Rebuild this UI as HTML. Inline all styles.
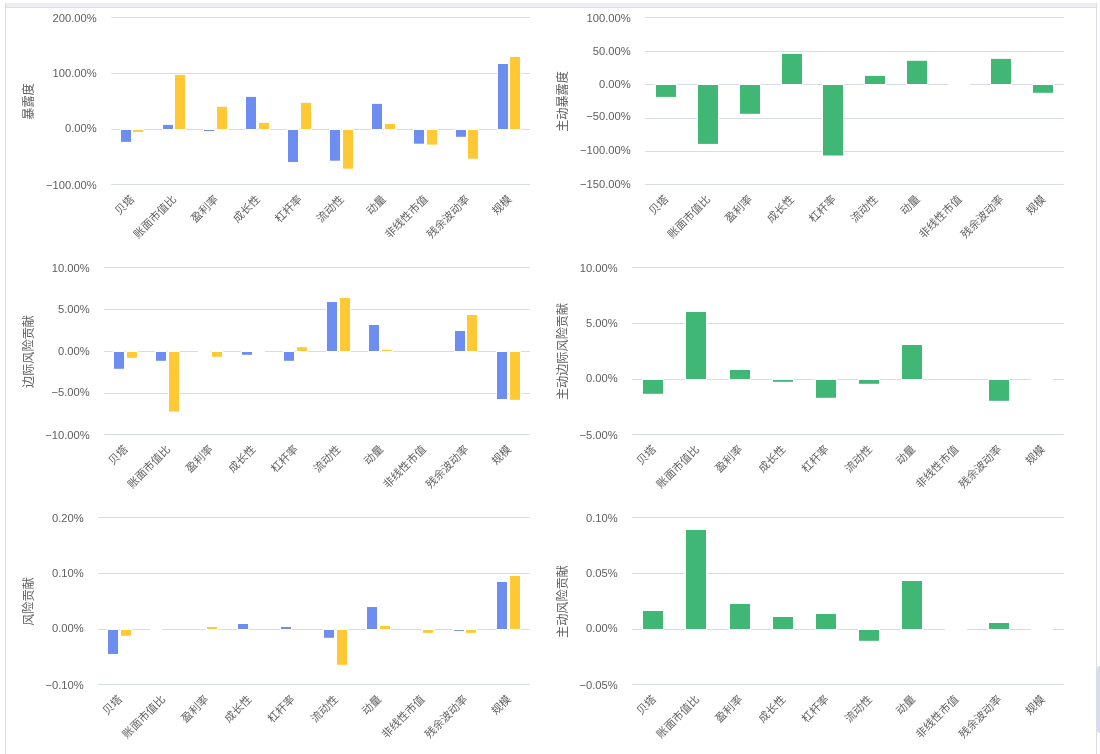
<!DOCTYPE html>
<html lang="zh-CN"><head><meta charset="utf-8"><title>风格因子分析</title>
<style>
html,body{margin:0;padding:0;background:#fff;overflow:hidden}
body{width:1100px;height:754px;position:relative;font-family:"Liberation Sans","Noto Sans CJK SC",sans-serif}
svg{position:absolute;left:0;top:0;display:block;will-change:transform}
svg text{font-family:"Liberation Sans","Noto Sans CJK SC",sans-serif}
.yl{font-size:11.2px;fill:#5e5e5e}
.xl{font-size:11px;fill:#5e5e5e}
.nm{font-size:12.15px;fill:#5e5e5e}
</style></head><body>
<svg width="1100" height="754" viewBox="0 0 1100 754">
<rect x="0" y="0" width="1100" height="754" fill="#fff"/>
<rect x="5" y="3" width="1092" height="4" fill="#ebedf3"/>
<rect x="5" y="7" width="1092" height="1" fill="#dadde9"/>
<rect x="5" y="3" width="1" height="751" fill="#dadde9"/>
<rect x="1096" y="3" width="1" height="751" fill="#dadde9"/>
<rect x="1097" y="666" width="6" height="67" rx="3" ry="3" fill="#d5ddef"/>
<rect x="111" y="17" width="419" height="1" fill="#d7dce8"/>
<rect x="111" y="73" width="419" height="1" fill="#d7dce8"/>
<rect x="111" y="129" width="419" height="1" fill="#d7dce8"/>
<rect x="111" y="184" width="419" height="1" fill="#d7dce8"/>
<text x="96.7" y="22.3" text-anchor="end" class="yl">200.00%</text>
<text x="96.7" y="76.97" text-anchor="end" class="yl">100.00%</text>
<text x="96.7" y="131.63" text-anchor="end" class="yl">0.00%</text>
<text x="96.7" y="188.55" text-anchor="end" class="yl">−100.00%</text>
<text transform="translate(32.8,101.5) rotate(-90)" text-anchor="middle" class="nm">暴露度</text>
<rect x="120" y="129" width="12" height="13.9" fill="#fff"/>
<rect x="121" y="130" width="10" height="11.9" fill="#6d8ef0"/>
<rect x="132" y="129" width="12" height="3.8" fill="#fff"/>
<rect x="133" y="130" width="10" height="1.8" fill="#ffc835"/>
<text transform="translate(132.45,197.3) rotate(-45)" text-anchor="end" dy="3.8" class="xl">贝塔</text>
<rect x="162" y="123.9" width="12" height="6.1" fill="#fff"/>
<rect x="163" y="124.9" width="10" height="4.1" fill="#6d8ef0"/>
<rect x="174" y="73.9" width="12" height="56.1" fill="#fff"/>
<rect x="175" y="74.9" width="10" height="54.1" fill="#ffc835"/>
<text transform="translate(174.35,197.3) rotate(-45)" text-anchor="end" dy="3.8" class="xl">账面市值比</text>
<rect x="203" y="129" width="12" height="3" fill="#fff"/>
<rect x="204" y="130" width="10" height="1" fill="#6d8ef0"/>
<rect x="216" y="105.8" width="12" height="24.2" fill="#fff"/>
<rect x="217" y="106.8" width="10" height="22.2" fill="#ffc835"/>
<text transform="translate(216.25,197.3) rotate(-45)" text-anchor="end" dy="3.8" class="xl">盈利率</text>
<rect x="245" y="95.9" width="12" height="34.1" fill="#fff"/>
<rect x="246" y="96.9" width="10" height="32.1" fill="#6d8ef0"/>
<rect x="258" y="121.9" width="12" height="8.1" fill="#fff"/>
<rect x="259" y="122.9" width="10" height="6.1" fill="#ffc835"/>
<text transform="translate(258.15,197.3) rotate(-45)" text-anchor="end" dy="3.8" class="xl">成长性</text>
<rect x="287" y="129" width="12" height="34" fill="#fff"/>
<rect x="288" y="130" width="10" height="32" fill="#6d8ef0"/>
<rect x="300" y="101.8" width="12" height="28.2" fill="#fff"/>
<rect x="301" y="102.8" width="10" height="26.2" fill="#ffc835"/>
<text transform="translate(300.05,197.3) rotate(-45)" text-anchor="end" dy="3.8" class="xl">杠杆率</text>
<rect x="329" y="129" width="12" height="32.7" fill="#fff"/>
<rect x="330" y="130" width="10" height="30.7" fill="#6d8ef0"/>
<rect x="342" y="129" width="12" height="40.7" fill="#fff"/>
<rect x="343" y="130" width="10" height="38.7" fill="#ffc835"/>
<text transform="translate(341.95,197.3) rotate(-45)" text-anchor="end" dy="3.8" class="xl">流动性</text>
<rect x="371" y="102.9" width="12" height="27.1" fill="#fff"/>
<rect x="372" y="103.9" width="10" height="25.1" fill="#6d8ef0"/>
<rect x="384" y="123" width="12" height="7" fill="#fff"/>
<rect x="385" y="124" width="10" height="5" fill="#ffc835"/>
<text transform="translate(383.85,197.3) rotate(-45)" text-anchor="end" dy="3.8" class="xl">动量</text>
<rect x="413" y="129" width="12" height="15.7" fill="#fff"/>
<rect x="414" y="130" width="10" height="13.7" fill="#6d8ef0"/>
<rect x="426" y="129" width="12" height="16.6" fill="#fff"/>
<rect x="427" y="130" width="10" height="14.6" fill="#ffc835"/>
<text transform="translate(425.75,197.3) rotate(-45)" text-anchor="end" dy="3.8" class="xl">非线性市值</text>
<rect x="455" y="129" width="12" height="8.8" fill="#fff"/>
<rect x="456" y="130" width="10" height="6.8" fill="#6d8ef0"/>
<rect x="467" y="129" width="12" height="30.7" fill="#fff"/>
<rect x="468" y="130" width="10" height="28.7" fill="#ffc835"/>
<text transform="translate(467.65,197.3) rotate(-45)" text-anchor="end" dy="3.8" class="xl">残余波动率</text>
<rect x="497" y="63" width="12" height="67" fill="#fff"/>
<rect x="498" y="64" width="10" height="65" fill="#6d8ef0"/>
<rect x="509" y="56" width="12" height="74" fill="#fff"/>
<rect x="510" y="57" width="10" height="72" fill="#ffc835"/>
<text transform="translate(509.55,197.3) rotate(-45)" text-anchor="end" dy="3.8" class="xl">规模</text>
<rect x="645" y="17" width="419" height="1" fill="#d7dce8"/>
<rect x="645" y="51" width="419" height="1" fill="#d7dce8"/>
<rect x="645" y="84" width="419" height="1" fill="#d7dce8"/>
<rect x="645" y="118" width="419" height="1" fill="#d7dce8"/>
<rect x="645" y="151" width="419" height="1" fill="#d7dce8"/>
<rect x="645" y="184" width="419" height="1" fill="#d7dce8"/>
<text x="630.7" y="22.2" text-anchor="end" class="yl">100.00%</text>
<text x="630.7" y="54.7" text-anchor="end" class="yl">50.00%</text>
<text x="630.7" y="88.1" text-anchor="end" class="yl">0.00%</text>
<text x="630.7" y="120.45" text-anchor="end" class="yl">−50.00%</text>
<text x="630.7" y="153.85" text-anchor="end" class="yl">−100.00%</text>
<text x="630.7" y="188.3" text-anchor="end" class="yl">−150.00%</text>
<text transform="translate(566.8,101.5) rotate(-90)" text-anchor="middle" class="nm">主动暴露度</text>
<rect x="655" y="84" width="22" height="13.9" fill="#fff"/>
<rect x="656" y="85" width="20" height="11.9" fill="#41b775"/>
<text transform="translate(666.45,197.3) rotate(-45)" text-anchor="end" dy="3.8" class="xl">贝塔</text>
<rect x="697" y="84" width="22" height="60.9" fill="#fff"/>
<rect x="698" y="85" width="20" height="58.9" fill="#41b775"/>
<text transform="translate(708.35,197.3) rotate(-45)" text-anchor="end" dy="3.8" class="xl">账面市值比</text>
<rect x="739" y="84" width="22" height="30.8" fill="#fff"/>
<rect x="740" y="85" width="20" height="28.8" fill="#41b775"/>
<text transform="translate(750.25,197.3) rotate(-45)" text-anchor="end" dy="3.8" class="xl">盈利率</text>
<rect x="781" y="52.9" width="22" height="32.1" fill="#fff"/>
<rect x="782" y="53.9" width="20" height="30.1" fill="#41b775"/>
<text transform="translate(792.15,197.3) rotate(-45)" text-anchor="end" dy="3.8" class="xl">成长性</text>
<rect x="822" y="84" width="22" height="72.5" fill="#fff"/>
<rect x="823" y="85" width="20" height="70.5" fill="#41b775"/>
<text transform="translate(834.05,197.3) rotate(-45)" text-anchor="end" dy="3.8" class="xl">杠杆率</text>
<rect x="864" y="74.9" width="22" height="10.1" fill="#fff"/>
<rect x="865" y="75.9" width="20" height="8.1" fill="#41b775"/>
<text transform="translate(875.95,197.3) rotate(-45)" text-anchor="end" dy="3.8" class="xl">流动性</text>
<rect x="906" y="59.8" width="22" height="25.2" fill="#fff"/>
<rect x="907" y="60.8" width="20" height="23.2" fill="#41b775"/>
<text transform="translate(917.85,197.3) rotate(-45)" text-anchor="end" dy="3.8" class="xl">动量</text>
<rect x="948" y="83.5" width="22" height="2" fill="#fff"/>
<text transform="translate(959.75,197.3) rotate(-45)" text-anchor="end" dy="3.8" class="xl">非线性市值</text>
<rect x="990" y="57.9" width="22" height="27.1" fill="#fff"/>
<rect x="991" y="58.9" width="20" height="25.1" fill="#41b775"/>
<text transform="translate(1001.65,197.3) rotate(-45)" text-anchor="end" dy="3.8" class="xl">残余波动率</text>
<rect x="1032" y="84" width="22" height="9.8" fill="#fff"/>
<rect x="1033" y="85" width="20" height="7.8" fill="#41b775"/>
<text transform="translate(1043.55,197.3) rotate(-45)" text-anchor="end" dy="3.8" class="xl">规模</text>
<rect x="104" y="267" width="426" height="1" fill="#d7dce8"/>
<rect x="104" y="309" width="426" height="1" fill="#d7dce8"/>
<rect x="104" y="351" width="426" height="1" fill="#d7dce8"/>
<rect x="104" y="393" width="426" height="1" fill="#d7dce8"/>
<rect x="104" y="434" width="426" height="1" fill="#d7dce8"/>
<text x="89.7" y="272.3" text-anchor="end" class="yl">10.00%</text>
<text x="89.7" y="313.3" text-anchor="end" class="yl">5.00%</text>
<text x="89.7" y="354.8" text-anchor="end" class="yl">0.00%</text>
<text x="89.7" y="395.8" text-anchor="end" class="yl">−5.00%</text>
<text x="89.7" y="438.55" text-anchor="end" class="yl">−10.00%</text>
<text transform="translate(32.8,351.5) rotate(-90)" text-anchor="middle" class="nm">边际风险贡献</text>
<rect x="113" y="351" width="12" height="18.8" fill="#fff"/>
<rect x="114" y="352" width="10" height="16.8" fill="#6d8ef0"/>
<rect x="126" y="351" width="12" height="7.8" fill="#fff"/>
<rect x="127" y="352" width="10" height="5.8" fill="#ffc835"/>
<text transform="translate(125.8,447.3) rotate(-45)" text-anchor="end" dy="3.8" class="xl">贝塔</text>
<rect x="155" y="351" width="12" height="10.8" fill="#fff"/>
<rect x="156" y="352" width="10" height="8.8" fill="#6d8ef0"/>
<rect x="168" y="351" width="12" height="61.6" fill="#fff"/>
<rect x="169" y="352" width="10" height="59.6" fill="#ffc835"/>
<text transform="translate(168.4,447.3) rotate(-45)" text-anchor="end" dy="3.8" class="xl">账面市值比</text>
<rect x="198" y="350.5" width="12" height="2" fill="#fff"/>
<rect x="211" y="351" width="12" height="6.8" fill="#fff"/>
<rect x="212" y="352" width="10" height="4.8" fill="#ffc835"/>
<text transform="translate(211,447.3) rotate(-45)" text-anchor="end" dy="3.8" class="xl">盈利率</text>
<rect x="241" y="351" width="12" height="4.8" fill="#fff"/>
<rect x="242" y="352" width="10" height="2.8" fill="#6d8ef0"/>
<rect x="253" y="350.5" width="12" height="2" fill="#fff"/>
<text transform="translate(253.6,447.3) rotate(-45)" text-anchor="end" dy="3.8" class="xl">成长性</text>
<rect x="283" y="351" width="12" height="10.8" fill="#fff"/>
<rect x="284" y="352" width="10" height="8.8" fill="#6d8ef0"/>
<rect x="296" y="346.2" width="12" height="5.8" fill="#fff"/>
<rect x="297" y="347.2" width="10" height="3.8" fill="#ffc835"/>
<text transform="translate(296.2,447.3) rotate(-45)" text-anchor="end" dy="3.8" class="xl">杠杆率</text>
<rect x="326" y="301" width="12" height="51" fill="#fff"/>
<rect x="327" y="302" width="10" height="49" fill="#6d8ef0"/>
<rect x="339" y="297" width="12" height="55" fill="#fff"/>
<rect x="340" y="298" width="10" height="53" fill="#ffc835"/>
<text transform="translate(338.8,447.3) rotate(-45)" text-anchor="end" dy="3.8" class="xl">流动性</text>
<rect x="368" y="324" width="12" height="28" fill="#fff"/>
<rect x="369" y="325" width="10" height="26" fill="#6d8ef0"/>
<rect x="381" y="348.8" width="12" height="3.2" fill="#fff"/>
<rect x="382" y="349.8" width="10" height="1.2" fill="#ffc835"/>
<text transform="translate(381.4,447.3) rotate(-45)" text-anchor="end" dy="3.8" class="xl">动量</text>
<text transform="translate(424,447.3) rotate(-45)" text-anchor="end" dy="3.8" class="xl">非线性市值</text>
<rect x="454" y="330" width="12" height="22" fill="#fff"/>
<rect x="455" y="331" width="10" height="20" fill="#6d8ef0"/>
<rect x="466" y="314" width="12" height="38" fill="#fff"/>
<rect x="467" y="315" width="10" height="36" fill="#ffc835"/>
<text transform="translate(466.6,447.3) rotate(-45)" text-anchor="end" dy="3.8" class="xl">残余波动率</text>
<rect x="496" y="351" width="12" height="49" fill="#fff"/>
<rect x="497" y="352" width="10" height="47" fill="#6d8ef0"/>
<rect x="509" y="351" width="12" height="49.8" fill="#fff"/>
<rect x="510" y="352" width="10" height="47.8" fill="#ffc835"/>
<text transform="translate(509.2,447.3) rotate(-45)" text-anchor="end" dy="3.8" class="xl">规模</text>
<rect x="632" y="267" width="432" height="1" fill="#d7dce8"/>
<rect x="632" y="323" width="432" height="1" fill="#d7dce8"/>
<rect x="632" y="379" width="432" height="1" fill="#d7dce8"/>
<rect x="632" y="434" width="432" height="1" fill="#d7dce8"/>
<text x="617.7" y="272.3" text-anchor="end" class="yl">10.00%</text>
<text x="617.7" y="326.97" text-anchor="end" class="yl">5.00%</text>
<text x="617.7" y="381.63" text-anchor="end" class="yl">0.00%</text>
<text x="617.7" y="438.55" text-anchor="end" class="yl">−5.00%</text>
<text transform="translate(566.8,351.5) rotate(-90)" text-anchor="middle" class="nm">主动边际风险贡献</text>
<rect x="642" y="379" width="22" height="15.8" fill="#fff"/>
<rect x="643" y="380" width="20" height="13.8" fill="#41b775"/>
<text transform="translate(654.1,447.3) rotate(-45)" text-anchor="end" dy="3.8" class="xl">贝塔</text>
<rect x="685" y="311" width="22" height="69" fill="#fff"/>
<rect x="686" y="312" width="20" height="67" fill="#41b775"/>
<text transform="translate(697.3,447.3) rotate(-45)" text-anchor="end" dy="3.8" class="xl">账面市值比</text>
<rect x="729" y="369" width="22" height="11" fill="#fff"/>
<rect x="730" y="370" width="20" height="9" fill="#41b775"/>
<text transform="translate(740.5,447.3) rotate(-45)" text-anchor="end" dy="3.8" class="xl">盈利率</text>
<rect x="772" y="379" width="22" height="3.8" fill="#fff"/>
<rect x="773" y="380" width="20" height="1.8" fill="#41b775"/>
<text transform="translate(783.7,447.3) rotate(-45)" text-anchor="end" dy="3.8" class="xl">成长性</text>
<rect x="815" y="379" width="22" height="19.8" fill="#fff"/>
<rect x="816" y="380" width="20" height="17.8" fill="#41b775"/>
<text transform="translate(826.9,447.3) rotate(-45)" text-anchor="end" dy="3.8" class="xl">杠杆率</text>
<rect x="858" y="379" width="22" height="5.8" fill="#fff"/>
<rect x="859" y="380" width="20" height="3.8" fill="#41b775"/>
<text transform="translate(870.1,447.3) rotate(-45)" text-anchor="end" dy="3.8" class="xl">流动性</text>
<rect x="901" y="344" width="22" height="36" fill="#fff"/>
<rect x="902" y="345" width="20" height="34" fill="#41b775"/>
<text transform="translate(913.3,447.3) rotate(-45)" text-anchor="end" dy="3.8" class="xl">动量</text>
<text transform="translate(956.5,447.3) rotate(-45)" text-anchor="end" dy="3.8" class="xl">非线性市值</text>
<rect x="988" y="379" width="22" height="22.8" fill="#fff"/>
<rect x="989" y="380" width="20" height="20.8" fill="#41b775"/>
<text transform="translate(999.7,447.3) rotate(-45)" text-anchor="end" dy="3.8" class="xl">残余波动率</text>
<rect x="1031" y="378.5" width="22" height="2" fill="#fff"/>
<text transform="translate(1042.9,447.3) rotate(-45)" text-anchor="end" dy="3.8" class="xl">规模</text>
<rect x="98" y="517" width="432" height="1" fill="#d7dce8"/>
<rect x="98" y="573" width="432" height="1" fill="#d7dce8"/>
<rect x="98" y="629" width="432" height="1" fill="#d7dce8"/>
<rect x="98" y="684" width="432" height="1" fill="#d7dce8"/>
<text x="83.7" y="522.3" text-anchor="end" class="yl">0.20%</text>
<text x="83.7" y="576.97" text-anchor="end" class="yl">0.10%</text>
<text x="83.7" y="631.63" text-anchor="end" class="yl">0.00%</text>
<text x="83.7" y="688.55" text-anchor="end" class="yl">−0.10%</text>
<text transform="translate(32.8,601.5) rotate(-90)" text-anchor="middle" class="nm">风险贡献</text>
<rect x="107" y="629" width="12" height="26" fill="#fff"/>
<rect x="108" y="630" width="10" height="24" fill="#6d8ef0"/>
<rect x="120" y="629" width="12" height="7.8" fill="#fff"/>
<rect x="121" y="630" width="10" height="5.8" fill="#ffc835"/>
<text transform="translate(120.1,697.3) rotate(-45)" text-anchor="end" dy="3.8" class="xl">贝塔</text>
<rect x="150" y="628.5" width="12" height="2" fill="#fff"/>
<text transform="translate(163.3,697.3) rotate(-45)" text-anchor="end" dy="3.8" class="xl">账面市值比</text>
<rect x="206" y="626" width="12" height="4" fill="#fff"/>
<rect x="207" y="627" width="10" height="2" fill="#ffc835"/>
<text transform="translate(206.5,697.3) rotate(-45)" text-anchor="end" dy="3.8" class="xl">盈利率</text>
<rect x="237" y="623" width="12" height="7" fill="#fff"/>
<rect x="238" y="624" width="10" height="5" fill="#6d8ef0"/>
<text transform="translate(249.7,697.3) rotate(-45)" text-anchor="end" dy="3.8" class="xl">成长性</text>
<rect x="280" y="626" width="12" height="4" fill="#fff"/>
<rect x="281" y="627" width="10" height="2" fill="#6d8ef0"/>
<text transform="translate(292.9,697.3) rotate(-45)" text-anchor="end" dy="3.8" class="xl">杠杆率</text>
<rect x="323" y="629" width="12" height="9.8" fill="#fff"/>
<rect x="324" y="630" width="10" height="7.8" fill="#6d8ef0"/>
<rect x="336" y="629" width="12" height="36.8" fill="#fff"/>
<rect x="337" y="630" width="10" height="34.8" fill="#ffc835"/>
<text transform="translate(336.1,697.3) rotate(-45)" text-anchor="end" dy="3.8" class="xl">流动性</text>
<rect x="366" y="606" width="12" height="24" fill="#fff"/>
<rect x="367" y="607" width="10" height="22" fill="#6d8ef0"/>
<rect x="379" y="625" width="12" height="5" fill="#fff"/>
<rect x="380" y="626" width="10" height="3" fill="#ffc835"/>
<text transform="translate(379.3,697.3) rotate(-45)" text-anchor="end" dy="3.8" class="xl">动量</text>
<rect x="422" y="629" width="12" height="4.8" fill="#fff"/>
<rect x="423" y="630" width="10" height="2.8" fill="#ffc835"/>
<text transform="translate(422.5,697.3) rotate(-45)" text-anchor="end" dy="3.8" class="xl">非线性市值</text>
<rect x="453" y="629" width="12" height="2.9" fill="#fff"/>
<rect x="454" y="630" width="10" height="0.9" fill="#6d8ef0"/>
<rect x="465" y="629" width="12" height="4.8" fill="#fff"/>
<rect x="466" y="630" width="10" height="2.8" fill="#ffc835"/>
<text transform="translate(465.7,697.3) rotate(-45)" text-anchor="end" dy="3.8" class="xl">残余波动率</text>
<rect x="496" y="581" width="12" height="49" fill="#fff"/>
<rect x="497" y="582" width="10" height="47" fill="#6d8ef0"/>
<rect x="509" y="575" width="12" height="55" fill="#fff"/>
<rect x="510" y="576" width="10" height="53" fill="#ffc835"/>
<text transform="translate(508.9,697.3) rotate(-45)" text-anchor="end" dy="3.8" class="xl">规模</text>
<rect x="632" y="517" width="432" height="1" fill="#d7dce8"/>
<rect x="632" y="573" width="432" height="1" fill="#d7dce8"/>
<rect x="632" y="629" width="432" height="1" fill="#d7dce8"/>
<rect x="632" y="684" width="432" height="1" fill="#d7dce8"/>
<text x="617.7" y="522.3" text-anchor="end" class="yl">0.10%</text>
<text x="617.7" y="576.97" text-anchor="end" class="yl">0.05%</text>
<text x="617.7" y="631.63" text-anchor="end" class="yl">0.00%</text>
<text x="617.7" y="688.55" text-anchor="end" class="yl">−0.05%</text>
<text transform="translate(566.8,601.5) rotate(-90)" text-anchor="middle" class="nm">主动风险贡献</text>
<rect x="642" y="610" width="22" height="20" fill="#fff"/>
<rect x="643" y="611" width="20" height="18" fill="#41b775"/>
<text transform="translate(654.1,697.3) rotate(-45)" text-anchor="end" dy="3.8" class="xl">贝塔</text>
<rect x="685" y="529" width="22" height="101" fill="#fff"/>
<rect x="686" y="530" width="20" height="99" fill="#41b775"/>
<text transform="translate(697.3,697.3) rotate(-45)" text-anchor="end" dy="3.8" class="xl">账面市值比</text>
<rect x="729" y="603" width="22" height="27" fill="#fff"/>
<rect x="730" y="604" width="20" height="25" fill="#41b775"/>
<text transform="translate(740.5,697.3) rotate(-45)" text-anchor="end" dy="3.8" class="xl">盈利率</text>
<rect x="772" y="616" width="22" height="14" fill="#fff"/>
<rect x="773" y="617" width="20" height="12" fill="#41b775"/>
<text transform="translate(783.7,697.3) rotate(-45)" text-anchor="end" dy="3.8" class="xl">成长性</text>
<rect x="815" y="613" width="22" height="17" fill="#fff"/>
<rect x="816" y="614" width="20" height="15" fill="#41b775"/>
<text transform="translate(826.9,697.3) rotate(-45)" text-anchor="end" dy="3.8" class="xl">杠杆率</text>
<rect x="858" y="629" width="22" height="12.8" fill="#fff"/>
<rect x="859" y="630" width="20" height="10.8" fill="#41b775"/>
<text transform="translate(870.1,697.3) rotate(-45)" text-anchor="end" dy="3.8" class="xl">流动性</text>
<rect x="901" y="580" width="22" height="50" fill="#fff"/>
<rect x="902" y="581" width="20" height="48" fill="#41b775"/>
<text transform="translate(913.3,697.3) rotate(-45)" text-anchor="end" dy="3.8" class="xl">动量</text>
<rect x="945" y="628.5" width="22" height="2" fill="#fff"/>
<text transform="translate(956.5,697.3) rotate(-45)" text-anchor="end" dy="3.8" class="xl">非线性市值</text>
<rect x="988" y="622" width="22" height="8" fill="#fff"/>
<rect x="989" y="623" width="20" height="6" fill="#41b775"/>
<text transform="translate(999.7,697.3) rotate(-45)" text-anchor="end" dy="3.8" class="xl">残余波动率</text>
<rect x="1031" y="628.5" width="22" height="2" fill="#fff"/>
<text transform="translate(1042.9,697.3) rotate(-45)" text-anchor="end" dy="3.8" class="xl">规模</text>
</svg>
</body></html>
